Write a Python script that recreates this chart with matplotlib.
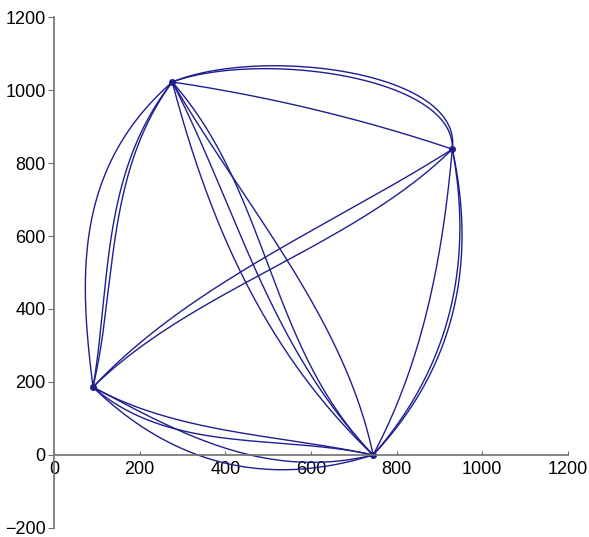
import numpy as np
import matplotlib
matplotlib.use('Agg')
import matplotlib.pyplot as plt

# vertices of the graph (data coords)
node_names = ['T', 'R', 'B', 'L']
node_x = [276, 930, 745, 91]
node_y = [1022, 838, 0, 186]

# curved edges: from, to, bulge of 1st / 2nd control point (perpendicular, data units)
# and where along the chord the control points sit
edge_from = ['T', 'T', 'T',
             'T', 'T', 'T', 'T',
             'L', 'L',
             'R', 'R', 'R',
             'L', 'L', 'L', 'L',
             'T', 'T', 'T']
edge_to = ['R', 'R', 'R',
           'B', 'B', 'B', 'B',
           'R', 'R',
           'B', 'B', 'B',
           'B', 'B', 'B', 'B',
           'L', 'L', 'L']
bulge_1 = [150, 138, 23,
           -79, -6, 81, 11,
           85, 70,
           120, 112, 40,
           -69, -128, -64, -145,
           -175, -110, -100]
bulge_2 = [215, 195, 23,
           -115, -97, -100, 97,
           7, -70,
           140, 128, 60,
           -6, -4, -139, -164,
           -95, -20, -5]
along_1 = [0.25, 0.25, 0.33,
           0.33, 0.33, 0.33, 0.33,
           0.33, 0.33,
           0.33, 0.33, 0.33,
           0.33, 0.33, 0.33, 0.33,
           0.33, 0.33, 0.33]
along_2 = [0.95, 0.93, 0.67,
           0.67, 0.67, 0.67, 0.67,
           0.67, 0.67,
           0.67, 0.67, 0.67,
           0.67, 0.67, 0.67, 0.67,
           0.67, 0.67, 0.67]

line_color = '#1e1e90'

plt.rcParams['font.family'] = ['Liberation Sans', 'DejaVu Sans']

fig = plt.figure(figsize=(5.89, 5.37), dpi=100)
ax = fig.add_axes([0.0917, 0.0168, 0.8726, 0.9515])

pos = {n: np.array([x, y], dtype=float) for n, x, y in zip(node_names, node_x, node_y)}
t = np.linspace(0, 1, 200)[:, None]

for a, b, h1, h2, s1, s2 in zip(edge_from, edge_to, bulge_1, bulge_2, along_1, along_2):
    p0, p3 = pos[a], pos[b]
    d = p3 - p0
    n = np.array([-d[1], d[0]]) / np.hypot(*d)
    p1 = p0 + d * s1 + n * h1
    p2 = p0 + d * s2 + n * h2
    curve = ((1 - t) ** 3) * p0 + 3 * t * (1 - t) ** 2 * p1 + 3 * t ** 2 * (1 - t) * p2 + t ** 3 * p3
    ax.plot(curve[:, 0], curve[:, 1], color=line_color, lw=1.0)

ax.plot(node_x, node_y, 'o', color=line_color, ms=4, ls='none')

ax.set_xlim(0, 1200)
ax.set_ylim(-200, 1200)
ax.spines['left'].set_position(('data', 0))
ax.spines['bottom'].set_position(('data', 0))
ax.spines['right'].set_visible(False)
ax.spines['top'].set_visible(False)
for s in ['left', 'bottom']:
    ax.spines[s].set_color('#707070')
    ax.spines[s].set_linewidth(1.2)

ax.set_xticks(range(0, 1201, 200))
ax.set_yticks(range(-200, 1201, 200))
ax.tick_params(axis='x', direction='in', length=3, color='#707070', labelsize=13, pad=4)
ax.tick_params(axis='y', direction='out', length=4, color='#707070', labelsize=13, pad=2)
ax.patch.set_visible(False)

fig.savefig('out.png', dpi=100)
